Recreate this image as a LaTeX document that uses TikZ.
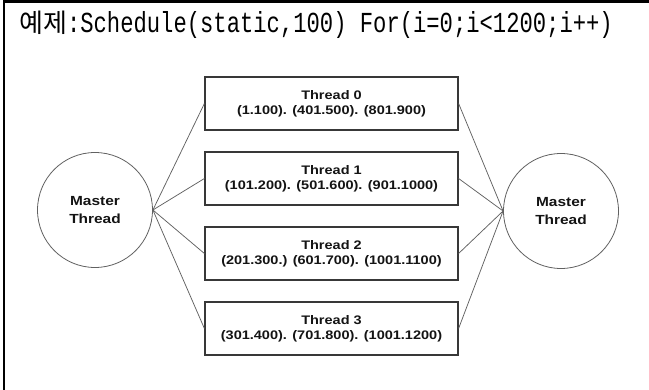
\documentclass[tikz,border=0pt]{standalone}
\usepackage{fontspec}
\setmainfont{Liberation Sans}
\newfontfamily\kfont{Noto Sans CJK KR}
\newfontfamily\tfont[FakeStretch=0.765]{Liberation Mono}
\newfontfamily\boxfont[FakeStretch=1.17]{Liberation Sans}
\begin{document}
\begin{tikzpicture}[x=1pt,y=-1pt,
  threadbox/.style={draw=black!78, line width=1.2pt, minimum width=253pt, minimum height=53pt,
    inner sep=0pt, align=center, text=black!92,
    font=\boxfont\fontsize{12.4}{15}\selectfont\bfseries},
  master/.style={circle, draw=black!62, line width=0.8pt, minimum size=115pt, inner sep=0pt,
    align=center, text=black!92, font=\boxfont\fontsize{13.2}{18.5}\selectfont\bfseries},
  link/.style={draw=black!62, line width=0.75pt},
  titletext/.style={anchor=base west, inner sep=0pt}]
\useasboundingbox (0,0) rectangle (649,390);
% frame (top and left edges)
\draw[line width=2.6pt] (649,1.3) -- (4,1.3) -- (4,390);
% title
\node[titletext] (title) at (19,33)
  {{\kfont\fontsize{26}{30}\selectfont 예제}{\tfont\fontsize{29}{30}\selectfont :Schedule(static,100) For(i=0;i<1200;i++)}};
% master threads
\node[master] (ml) at (95,210) {Master\\Thread};
\node[master] (mr) at (561,211) {Master\\Thread};
% thread boxes
\node[threadbox] (t0) at (331.5,103.5) {Thread 0\\(1.100). (401.500). (801.900)};
\node[threadbox] (t1) at (331.5,178.5) {Thread 1\\(101.200). (501.600). (901.1000)};
\node[threadbox] (t2) at (331.5,253.5) {Thread 2\\(201.300.) (601.700). (1001.1100)};
\node[threadbox] (t3) at (331.5,328.5) {Thread 3\\(301.400). (701.800). (1001.1200)};
% connectors
\foreach \t in {t0,t1,t2,t3}{
  \draw[link] (ml.east) -- (\t.west);
  \draw[link] (\t.east) -- (mr.west);
}
\end{tikzpicture}
\end{document}
